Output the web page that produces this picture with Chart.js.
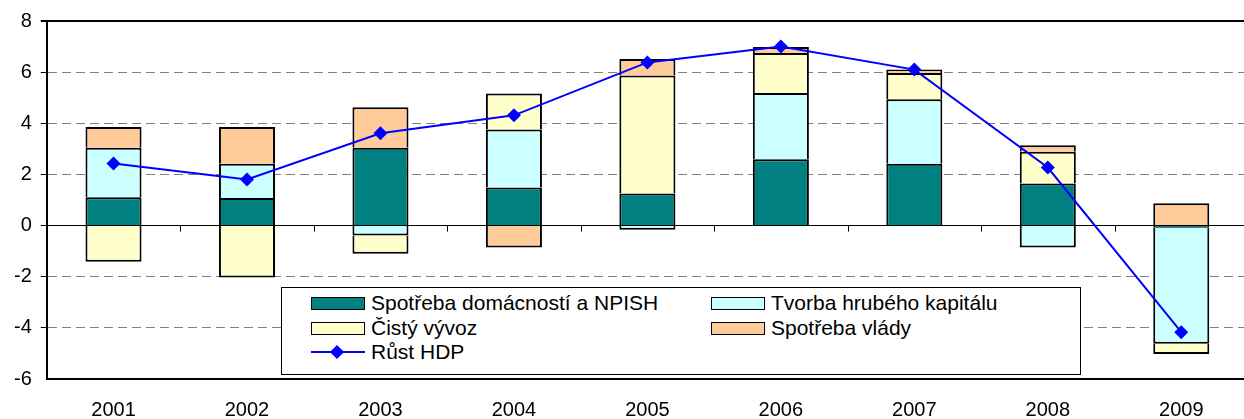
<!DOCTYPE html>
<html>
<head>
<meta charset="utf-8">
<script src="https://cdn.jsdelivr.net/npm/chart.js@4.4.1/dist/chart.umd.min.js"></script>
<style>
  body { margin: 0; overflow: hidden; background: #fff; font-family: "Liberation Sans", Arial, sans-serif; }
  #wrap { position: relative; width: 1244px; height: 419px; overflow: hidden; }
  #chart { position: absolute; left: 0; top: 0; }
  #legend {
    position: absolute; left: 281px; top: 287px; width: 800px; height: 88px;
    border: 1px solid #000; background: #fff; box-sizing: border-box;
  }
  .item { position: absolute; height: 24px; display: flex; align-items: center; font-size: 21px; color: #000; white-space: nowrap; }
  .sw { width: 52px; height: 11px; border: 1.5px solid #000; margin-right: 6px; }
  .ln { width: 54px; height: 14px; margin-right: 6px; position: relative; }
  .ln:before { content: ""; position: absolute; left: 0; right: 0; top: 6px; height: 2px; background: #0000ff; }
  .ln:after { content: ""; position: absolute; left: 21px; top: 1.5px; width: 10px; height: 10px; background: #0000ff; transform: rotate(45deg); }
</style>
</head>
<body>
<div id="wrap">
  <canvas id="chart" width="1255" height="441"></canvas>
  <div id="legend"></div>
</div>
<script>
// roky a data (procentni body)
const years = ['2001', '2002', '2003', '2004', '2005', '2006', '2007', '2008', '2009'];
const household = [1.11, 1.08, 3.04, 1.49, 1.25, 2.59, 2.42, 1.65, -0.09];
const capital = [1.93, 1.34, -0.39, 2.27, -0.16, 2.59, 2.52, -0.86, -4.53];
const netExport = [-1.41, -2.03, -0.71, 1.40, 4.62, 1.57, 1.03, 1.24, -0.40];
const government = [0.81, 1.43, 1.59, -0.86, 0.64, 0.23, 0.13, 0.25, 0.87];
const gdp = [2.43, 1.80, 3.61, 4.31, 6.38, 7.00, 6.10, 2.27, -4.17];

const labels = ['Spotřeba domácností a NPISH', 'Tvorba hrubého kapitálu', 'Čistý vývoz', 'Spotřeba vlády', 'Růst HDP'];
const colors = ['#008080', '#ccffff', '#ffffcc', '#ffcc99', '#0000ff'];

function bar(i, data) {
    return {
        type: 'bar',
        label: labels[i],
        data: data,
        backgroundColor: colors[i],
        borderColor: '#000',
        borderWidth: 2,
        borderSkipped: 'start',
        stack: 'parts',
        order: 1,
        barPercentage: 0.42,
        categoryPercentage: 1
    };
}

// carky na nulove ose mezi roky
const zeroTicks = {
    id: 'zeroTicks',
    afterDraw(chart) {
        const xs = chart.scales.x, ys = chart.scales.y;
        const y0 = ys.getPixelForValue(0);
        const ctx = chart.ctx;
        ctx.save();
        ctx.strokeStyle = '#000';
        ctx.lineWidth = 1;
        for (let i = 1; i < years.length; i++) {
            const px = Math.round(xs.left + i * xs.width / years.length) + 0.5;
            ctx.beginPath();
            ctx.moveTo(px, y0);
            ctx.lineTo(px, y0 + 6);
            ctx.stroke();
        }
        ctx.restore();
    }
};

const ctx = document.getElementById('chart').getContext('2d');
new Chart(ctx, {
    data: {
        labels: years,
        datasets: [
            bar(0, household),
            bar(1, capital),
            bar(2, netExport),
            bar(3, government),
            {
                type: 'line',
                label: labels[4],
                data: gdp,
                borderColor: colors[4],
                backgroundColor: colors[4],
                borderWidth: 2,
                pointStyle: 'rectRot',
                pointRadius: 7,
                pointBorderWidth: 0,
                tension: 0,
                stack: 'gdp',
                order: 0
            }
        ]
    },
    plugins: [zeroTicks],
    options: {
        responsive: false,
        animation: false,
        layout: { padding: { top: 9, left: 5, right: 0, bottom: 0 } },
        plugins: { legend: { display: false }, tooltip: { enabled: false } },
        scales: {
            x: {
                stacked: true,
                offset: true,
                grid: { display: false, drawTicks: false },
                border: { display: true, color: '#000', width: 2 },
                ticks: { color: '#000', padding: 19, font: { family: 'Liberation Sans', size: 20 } }
            },
            y: {
                stacked: true,
                min: -6,
                max: 8,
                ticks: { stepSize: 2, color: '#000', padding: 9, font: { family: 'Liberation Sans', size: 20 } },
                grid: {
                    color: c => (c.tick && (c.tick.value === 0 || c.tick.value === 8)) ? '#000' : '#808080',
                    lineWidth: c => !c.tick ? 1 : (c.tick.value === 8 ? 2 : (c.tick.value === -6 ? 0 : 1)),
                    tickColor: '#000',
                    tickLength: 6
                },
                border: {
                    display: true,
                    color: '#000',
                    width: 2,
                    dash: c => (c.tick && c.tick.value !== 0 && c.tick.value !== 8) ? [9, 5] : []
                }
            }
        }
    }
});

// legenda
const legend = document.getElementById('legend');
const slots = [[29, 3], [429, 3], [29, 28], [429, 28], [29, 52]];
labels.forEach((name, i) => {
    const el = document.createElement('div');
    el.className = 'item';
    el.style.left = slots[i][0] + 'px';
    el.style.top = slots[i][1] + 'px';
    const mark = document.createElement('span');
    if (i === 4) {
        mark.className = 'ln';
    } else {
        mark.className = 'sw';
        mark.style.background = colors[i];
    }
    el.appendChild(mark);
    el.appendChild(document.createTextNode(name));
    legend.appendChild(el);
});
</script>
</body>
</html>
